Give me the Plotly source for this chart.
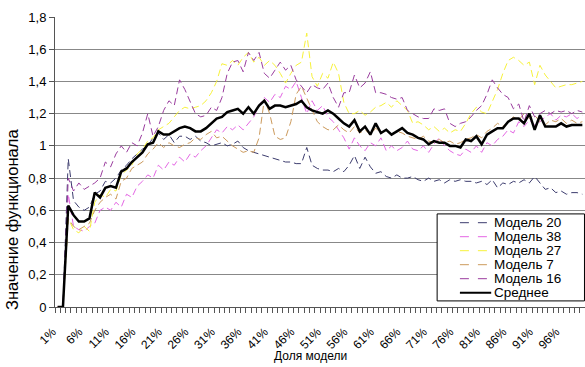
import plotly.graph_objects as go

categories = [f"{i}%" for i in range(1, 101)]
tick_labels = [c if (i % 5 == 0) else "" for i, c in enumerate(categories)]

model_20 = [0, 0, 0.92, 0.66, 0.62, 0.60, 0.62, 0.70, 0.72, 0.78,
            0.77, 0.80, 0.85, 0.88, 0.92, 0.95, 0.98, 1.00, 1.05, 1.08,
            1.04, 1.07, 1.02, 1.06, 1.06, 1.04, 1.06, 1.03, 1.02, 1.00,
            1.01, 1.02, 1.00, 1.01, 1.03, 0.99, 0.97, 0.96, 0.95, 0.94,
            0.93, 0.92, 0.91, 0.90, 0.90, 0.89, 0.89, 0.99, 0.88, 0.86,
            0.85, 0.85, 0.84, 0.86, 0.84, 0.88, 0.94, 0.86, 0.93, 0.87,
            0.83, 0.84, 0.81, 0.80, 0.82, 0.80, 0.80, 0.81, 0.79, 0.78,
            0.80, 0.78, 0.79, 0.77, 0.79, 0.78, 0.79, 0.78, 0.78, 0.77,
            0.78, 0.76, 0.79, 0.74, 0.77, 0.76, 0.78, 0.77, 0.79, 0.77,
            0.81, 0.77, 0.73, 0.74, 0.71, 0.72, 0.70, 0.71, 0.71, 0.70]

model_38 = [0, 0, 0.70, 0.50, 0.48, 0.47, 0.50, 0.52, 0.60, 0.62,
            0.60, 0.65, 0.62, 0.70, 0.68, 0.75, 0.78, 0.82, 0.80, 0.88,
            0.85, 0.90, 0.88, 0.93, 0.90, 0.95, 0.93, 0.97, 1.00, 1.05,
            1.10, 1.08, 1.12, 1.10, 1.13, 1.10, 1.14, 1.18, 1.25, 1.30,
            1.27, 1.32, 1.30, 1.37, 1.35, 1.40, 1.30, 1.20, 1.28, 1.22,
            1.25, 1.18, 1.15, 1.10, 1.05, 0.98, 1.05, 1.00, 0.97, 1.02,
            1.00, 1.05, 0.97, 1.00, 0.97, 0.99, 1.03, 0.98, 0.97, 1.00,
            0.96, 1.01, 1.05, 1.00, 0.97, 0.95, 0.94, 0.98, 0.96, 1.00,
            0.96, 1.02, 1.00, 1.04, 1.06, 1.10, 1.08, 1.15, 1.12, 1.16,
            1.13, 1.15, 1.18, 1.20, 1.16, 1.19, 1.18, 1.20, 1.17, 1.19]

model_27 = [0, 0, 0.55, 0.48, 0.46, 0.50, 0.47, 0.65, 0.70, 0.68,
            0.73, 0.72, 0.82, 0.85, 0.88, 0.95, 0.98, 1.03, 1.05, 1.10,
            1.12, 1.14, 1.18, 1.22, 1.24, 1.23, 1.24, 1.25, 1.28, 1.33,
            1.40, 1.51, 1.50, 1.53, 1.50, 1.55, 1.58, 1.52, 1.55, 1.50,
            1.53, 1.50, 1.45, 1.39, 1.45, 1.50, 1.52, 1.70, 1.43, 1.37,
            1.45, 1.42, 1.52, 1.45, 1.27, 1.20, 1.20, 1.22, 1.19, 1.21,
            1.24, 1.25, 1.27, 1.24, 1.28, 1.25, 1.22, 1.14, 1.15, 1.13,
            1.10, 1.12, 1.09, 1.11, 1.08, 1.10, 1.09, 1.14, 1.20, 1.24,
            1.21, 1.20, 1.28, 1.35, 1.45, 1.53, 1.55, 1.53, 1.50, 1.52,
            1.38, 1.50, 1.44, 1.40, 1.36, 1.37, 1.38, 1.38, 1.39, 1.40]

model_7 = [0, 0, 0.55, 0.50, 0.48, 0.50, 0.52, 0.60, 0.65, 0.68,
           0.70, 0.67, 0.78, 0.80, 0.86, 0.88, 0.90, 0.95, 0.98, 1.02,
           0.99, 1.02, 1.00, 0.99, 1.01, 1.02, 1.05, 1.04, 1.07, 1.09,
           1.05, 1.06, 1.03, 1.00, 0.98, 0.96, 0.97, 0.96, 1.05, 1.29,
           1.20, 1.06, 1.04, 1.05, 1.15, 1.32, 1.37, 1.30, 1.22, 1.15,
           1.12, 1.10, 1.10, 1.13, 1.10, 1.08, 1.12, 1.08, 1.10, 1.07,
           1.11, 1.08, 1.10, 1.07, 1.09, 1.08, 1.06, 1.05, 1.04, 1.06,
           1.03, 1.02, 1.04, 1.02, 1.03, 1.01, 1.02, 1.04, 1.05, 1.07,
           1.05, 1.09, 1.11, 1.14, 1.12, 1.15, 1.18, 1.16, 1.20, 1.17,
           1.19, 1.15, 1.13, 1.16, 1.15, 1.17, 1.14, 1.16, 1.14, 1.15]

model_16 = [0, 0, 0.80, 0.72, 0.77, 0.73, 0.75, 0.77, 0.80, 0.90,
            0.87, 0.95, 1.00, 0.96, 1.02, 1.00, 1.08, 1.20, 1.06, 1.12,
            1.22, 1.28, 1.25, 1.41, 1.35, 1.27, 1.20, 1.18, 1.19, 1.24,
            1.22, 1.30, 1.45, 1.52, 1.53, 1.46, 1.58, 1.53, 1.58, 1.45,
            1.42, 1.47, 1.52, 1.47, 1.50, 1.41, 1.37, 1.33, 1.38, 1.36,
            1.35, 1.39, 1.30, 1.24, 1.33, 1.33, 1.44, 1.36, 1.39, 1.46,
            1.33, 1.33, 1.32, 1.30, 1.29, 1.30, 1.22, 1.20, 1.18, 1.17,
            1.17, 1.23, 1.22, 1.23, 1.14, 1.12, 1.14, 1.15, 1.18, 1.22,
            1.25, 1.32, 1.41, 1.36, 1.32, 1.30, 1.23, 1.26, 1.15, 1.25,
            1.18, 1.20, 1.22, 1.20, 1.22, 1.21, 1.22, 1.20, 1.22, 1.21]

average = [0, 0, 0.63, 0.57, 0.53, 0.53, 0.55, 0.71, 0.68, 0.74,
           0.75, 0.74, 0.84, 0.86, 0.90, 0.93, 0.96, 1.01, 1.02, 1.09,
           1.07, 1.07, 1.09, 1.11, 1.12, 1.11, 1.09, 1.09, 1.11, 1.14,
           1.17, 1.18, 1.21, 1.22, 1.23, 1.20, 1.24, 1.20, 1.25, 1.28,
           1.23, 1.25, 1.25, 1.24, 1.25, 1.26, 1.28, 1.24, 1.22, 1.21,
           1.20, 1.22, 1.20, 1.17, 1.14, 1.12, 1.16, 1.09, 1.12, 1.07,
           1.14, 1.08, 1.10, 1.07, 1.09, 1.11, 1.08, 1.07, 1.05, 1.04,
           1.01, 1.03, 1.02, 1.02, 1.00, 1.00, 0.99, 1.04, 1.03, 1.06,
           1.01, 1.07, 1.09, 1.11, 1.11, 1.15, 1.17, 1.17, 1.14, 1.20,
           1.10, 1.19, 1.12, 1.12, 1.12, 1.14, 1.12, 1.13, 1.13, 1.13]

series_names = ["Модель 20", "Модель 38", "Модель 27", "Модель 7", "Модель 16", "Среднее"]
series_values = [model_20, model_38, model_27, model_7, model_16, average]
series_colors = ["#3c3c6e", "#e466e4", "#f7f23a", "#cc9a5c", "#9a3c9e", "#000000"]
series_widths = [1, 1, 1, 1, 1, 2.5]
series_dash = ["7px,4px"] * 5 + ["solid"]

FONT = "Liberation Sans, Arial, sans-serif"

fig = go.Figure()
for name, vals, col, w, d in zip(series_names, series_values, series_colors, series_widths, series_dash):
    fig.add_trace(go.Scatter(x=categories, y=vals, mode="lines", name=name,
                             line=dict(color=col, width=w, dash=d), showlegend=False))

# compact Excel-style legend
shapes = [dict(type="rect", xref="paper", yref="paper", x0=0.721, x1=0.999, y0=0.021, y1=0.321,
               line=dict(color="#000000", width=1), fillcolor="white", layer="above")]
annotations = []
for k, (name, col, w, d) in enumerate(zip(series_names, series_colors, series_widths, series_dash)):
    yc = (307 - (222.7 + 14 * k)) / 290
    shapes.append(dict(type="line", xref="paper", yref="paper", x0=0.764, x1=0.823, y0=yc, y1=yc,
                       line=dict(color=col, width=w if w < 2 else 2, dash=("dash" if d != "solid" else "solid")),
                       layer="above"))
    annotations.append(dict(text=name, xref="paper", yref="paper", x=0.826, y=yc, xanchor="left",
                            yanchor="middle", showarrow=False, borderpad=0,
                            font=dict(family=FONT, size=13.5, color="#000")))

annotations.append(dict(text="Доля модели", xref="paper", yref="paper", x=0.483, y=-0.169,
                        xanchor="center", yanchor="middle", showarrow=False,
                        font=dict(family=FONT, size=12, color="#000")))
annotations.append(dict(text="Значение функционала", xref="paper", yref="paper", x=-0.081, y=0.30,
                        xanchor="center", yanchor="middle", textangle=-90, showarrow=False,
                        borderpad=0, font=dict(family=FONT, size=16.5, color="#000")))

fig.update_layout(
    width=585, height=367,
    margin=dict(l=55, r=0, t=17, b=60, autoexpand=False),
    paper_bgcolor="white", plot_bgcolor="white",
    separators=", ",
    font=dict(family=FONT, size=12, color="#000"),
    shapes=shapes, annotations=annotations,
    xaxis=dict(type="category", categoryorder="array", categoryarray=categories,
               tickmode="array", tickvals=categories, ticktext=tick_labels,
               tickangle=-45, tickson="boundaries", ticks="outside", ticklen=5,
               tickcolor="#555", tickwidth=1, showline=True, linecolor="#555",
               showgrid=False, range=[-0.5, 99.5], zeroline=False, automargin=False,
               ticklabelstandoff=12, ticklabelshift=-5,
               tickfont=dict(family=FONT, size=12, color="#000")),
    yaxis=dict(range=[0, 1.8], dtick=0.2, tick0=0, ticks="outside", ticklen=5,
               tickcolor="#555", showline=True, linecolor="#555", automargin=False,
               showgrid=True, gridcolor="#888", gridwidth=1, zeroline=False,
               tickfont=dict(family=FONT, size=13, color="#000")),
)

# remove the browser's default 8px body margin so the figure fills the 585x367 frame
fig.write_html("out.html", config={"displayModeBar": False},
               post_script="document.body.style.margin='0px';")
